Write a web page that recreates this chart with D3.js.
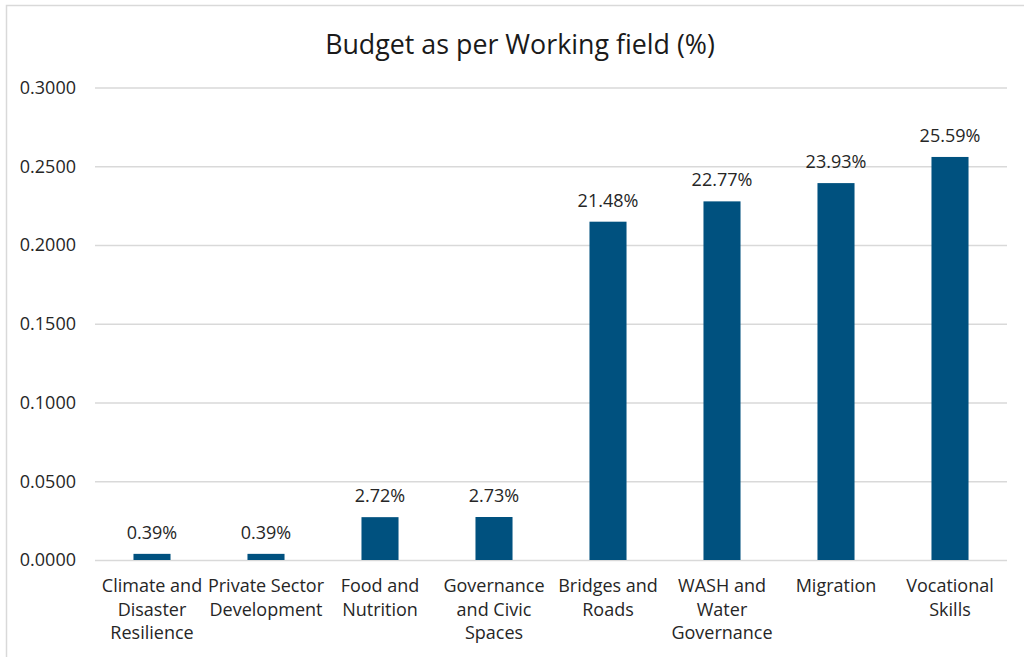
<!DOCTYPE html>
<html>
<head>
<meta charset="utf-8">
<script src="https://cdn.jsdelivr.net/npm/d3@7"></script>
<style>
  html, body { margin: 0; padding: 0; background: #fff; }
  #chart { width: 1024px; height: 657px; overflow: hidden; }
  text { font-family: "Open Sans", sans-serif; }
</style>
</head>
<body>
<div id="chart"></div>
<script>
const categories = [
  "Climate and Disaster Resilience",
  "Private Sector Development",
  "Food and Nutrition",
  "Governance and Civic Spaces",
  "Bridges and Roads",
  "WASH and Water Governance",
  "Migration",
  "Vocational Skills",
];
const budgetShare = [0.0039, 0.0039, 0.0272, 0.0273, 0.2148, 0.2277, 0.2393, 0.2559];
const yTicks = [0, 0.05, 0.1, 0.15, 0.2, 0.25, 0.3];
const title = "Budget as per Working field (%)";

const data = categories.map((c, i) => ({ category: c, value: budgetShare[i] }));

const width = 1024;
const height = 657;
const margin = { top: 87.5, right: 17, bottom: 97, left: 95 };
const innerW = width - margin.left - margin.right;
const innerH = height - margin.top - margin.bottom;
const textColor = "#262626";

const svg = d3
  .select("#chart")
  .append("svg")
  .attr("width", width)
  .attr("height", height)
  .attr("viewBox", [0, 0, width, height]);

// chart frame (runs off the right and bottom edges)
svg
  .append("rect")
  .attr("x", 6.5)
  .attr("y", 5.5)
  .attr("width", 1030)
  .attr("height", 670)
  .attr("fill", "none")
  .attr("stroke", "#d9d9d9")
  .attr("stroke-width", 1.5);

svg
  .append("text")
  .attr("x", 520)
  .attr("y", 54)
  .attr("text-anchor", "middle")
  .attr("fill", "#1a1a1a")
  .style("font-size", "26.8px")
  .text(title);

const g = svg
  .append("g")
  .attr("transform", `translate(${margin.left},${margin.top})`);

const pad = 0.675;
const x = d3
  .scaleBand()
  .domain(categories)
  .range([0, innerW])
  .paddingInner(pad)
  .paddingOuter(pad / 2);

const y = d3.scaleLinear().domain([0, 0.3]).range([innerH, 0]);

// Y axis with gridlines
g.append("g")
  .call(
    d3.axisLeft(y).tickValues(yTicks).tickFormat(d3.format(".4f")).tickSize(-innerW).tickPadding(19)
  )
  .call((g) => g.select(".domain").remove())
  .call((g) => g.selectAll(".tick line").attr("stroke", "#d9d9d9").attr("stroke-width", 1.3))
  .selectAll("text")
  .attr("fill", textColor)
  .style("font-size", "18px")
  .style("font-family", "'Open Sans', sans-serif");

// Bars
g.selectAll(".bar")
  .data(data)
  .join("rect")
  .attr("class", "bar")
  .attr("x", (d) => x(d.category))
  .attr("y", (d) => y(d.value))
  .attr("width", x.bandwidth())
  .attr("height", (d) => innerH - y(d.value))
  .attr("fill", "#00517f");

// Data labels
g.selectAll(".label")
  .data(data)
  .join("text")
  .attr("class", "label")
  .attr("x", (d) => x(d.category) + x.bandwidth() / 2)
  .attr("y", (d) => y(d.value) - 15)
  .attr("text-anchor", "middle")
  .attr("fill", textColor)
  .style("font-size", "18px")
  .text((d) => d3.format(".2%")(d.value));

// X axis labels
const xAxis = g
  .append("g")
  .attr("transform", `translate(0,${innerH})`)
  .call(d3.axisBottom(x).tickSize(0).tickPadding(0))
  .call((g) => g.select(".domain").remove());

xAxis
  .selectAll(".tick text")
  .attr("dy", null)
  .attr("fill", textColor)
  .style("font-size", "18px")
  .style("font-family", "'Open Sans', sans-serif")
  .call(wrap, x.step() + 8);

function wrap(texts, maxWidth) {
  texts.each(function () {
    const text = d3.select(this);
    const words = text.text().split(/\s+/);
    text.text(null);
    let line = [];
    let lineNo = 0;
    let tspan = text.append("tspan").attr("x", 0).attr("y", 32);
    for (const word of words) {
      line.push(word);
      tspan.text(line.join(" "));
      if (tspan.node().getComputedTextLength() > maxWidth && line.length > 1) {
        line.pop();
        tspan.text(line.join(" "));
        line = [word];
        lineNo += 1;
        tspan = text
          .append("tspan")
          .attr("x", 0)
          .attr("y", 32 + lineNo * 23.5)
          .text(word);
      }
    }
  });
}
</script>
</body>
</html>
